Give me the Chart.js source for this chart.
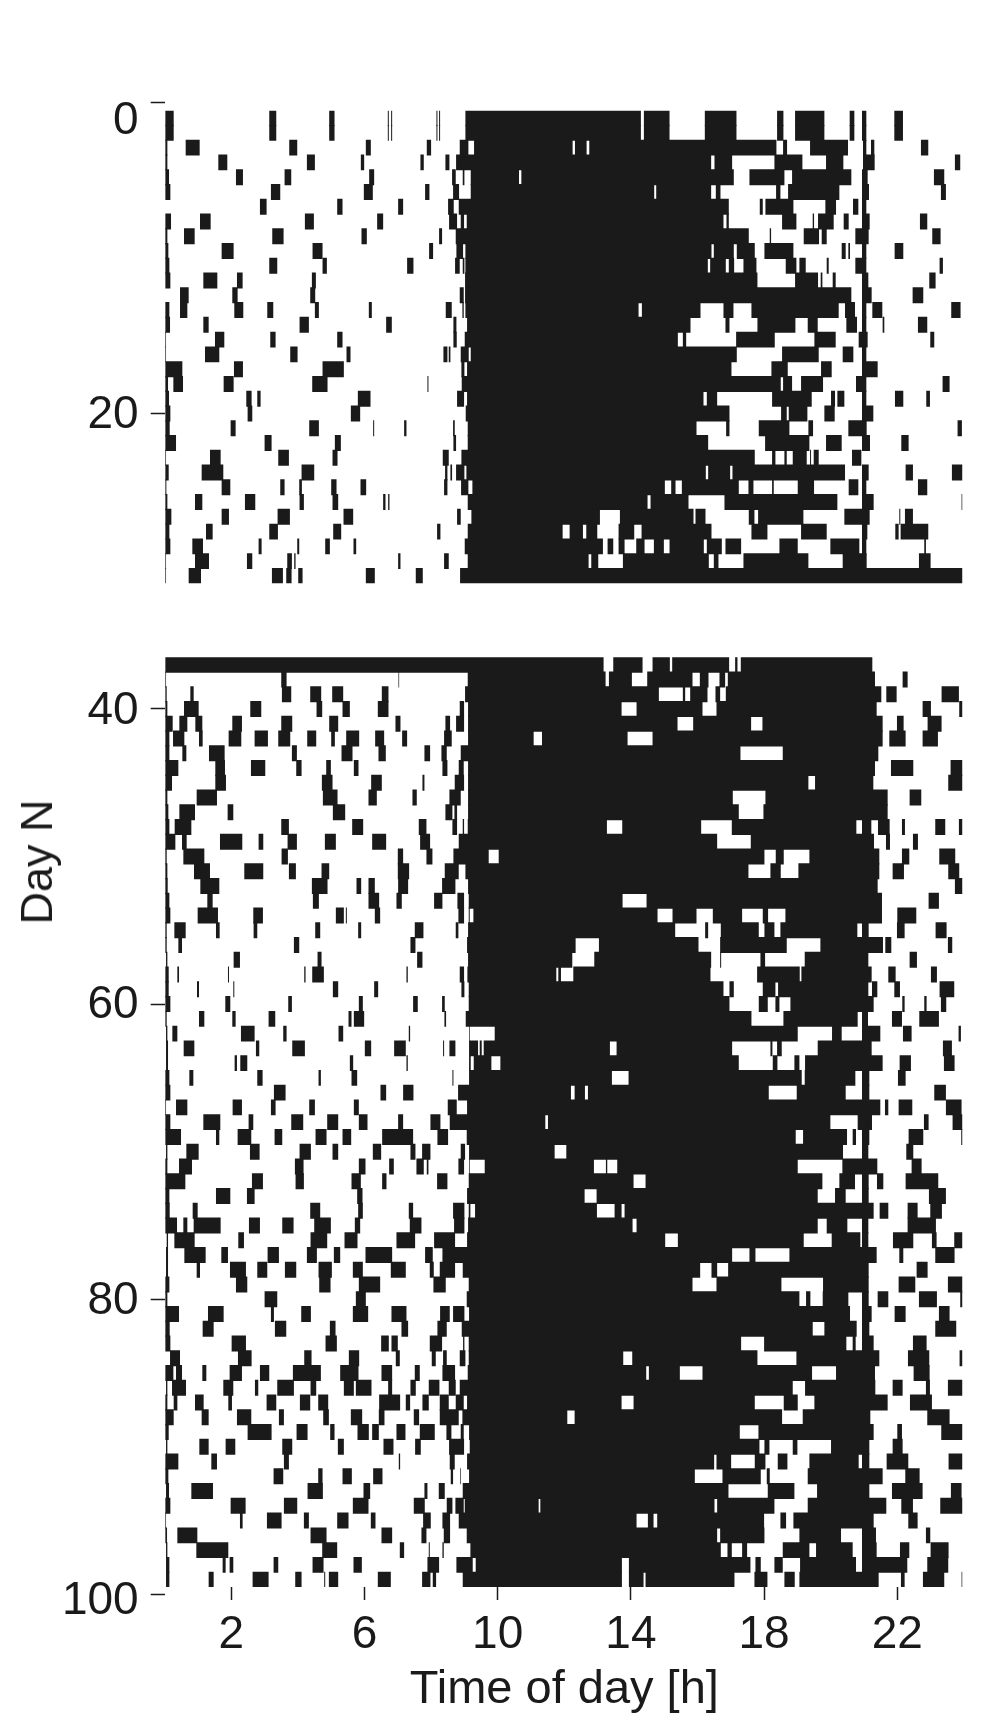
<!DOCTYPE html>
<html>
<head>
<meta charset="utf-8">
<title>Actogram</title>
<script src="https://cdn.jsdelivr.net/npm/chart.js@4/dist/chart.umd.min.js"></script>
<style>
  body { margin: 0; background: #fff; }
  canvas { position: absolute; left: 0; }
  #top { top: 0; }
  #bottom { top: 600px; }
  #dayTitle {
    position: absolute; left: 37px; top: 862px; white-space: nowrap; color: #1a1a1a;
    font: 45px "Liberation Sans", Arial, sans-serif;
    transform: translate(-50%, -50%) rotate(-90deg);
  }
</style>
</head>
<body>
<canvas id="top" width="990" height="640"></canvas>
<canvas id="bottom" width="990" height="1134"></canvas>
<div id="dayTitle">Day N</div>
<script>
// Activity bouts per row: start,end,start,end,... in hours
const topRows = [
  [.02,.27,3.14,3.35,4.94,5.10,6.70,6.73,6.80,6.83,8.16,8.19,8.24,8.27,9.03,14.30,14.39,15.16,16.22,17.17,18.39,18.58,18.93,19.81,20.57,20.71,20.94,21.07,21.91,22.17],
  [.02,.27,3.14,3.35,4.94,5.10,6.70,6.73,6.80,6.83,8.16,8.19,8.24,8.27,9.03,14.30,14.39,15.16,16.22,17.17,18.39,18.58,18.93,19.81,20.57,20.71,20.94,21.07,21.91,22.17],
  [.02,.08,.63,1.05,3.74,3.98,6.04,6.19,7.87,8.0,8.86,9.12,9.29,12.25,12.32,12.67,12.75,18.37,18.57,18.69,19.38,20.52,20.97,21.07,21.21,21.31,22.71,22.93],
  [.02,.08,1.61,1.88,4.27,4.51,5.89,5.99,7.68,7.78,8.43,8.55,8.75,16.41,16.51,17.04,18.31,19.15,19.86,20.38,20.97,21.32,23.73,23.89],
  [.02,.13,2.14,2.35,3.6,3.8,6.14,6.29,8.63,8.74,8.95,9.0,9.19,10.64,10.71,17.09,17.56,18.61,18.84,20.62,20.94,21.11,23.10,23.41],
  [.02,.17,3.19,3.47,5.98,6.25,7.82,7.95,8.66,8.84,9.19,14.70,14.76,16.41,16.55,16.69,18.36,18.49,18.72,20.26,20.94,21.15,23.31,23.46],
  [2.86,3.06,5.18,5.34,7.01,7.16,8.51,8.68,8.83,16.94,17.87,17.96,18.04,18.88,19.84,20.16,20.67,20.83,20.94,21.07],
  [.02,.19,1.06,1.38,4.21,4.48,6.38,6.56,8.54,8.78,8.89,8.99,9.07,16.78,16.87,16.94,18.54,18.97,19.46,19.50,19.62,20.09,20.39,20.54,20.94,21.17,22.68,22.90],
  [.02,.08,.58,.90,3.23,3.57,5.91,6.07,8.24,8.33,8.74,17.54,18.17,18.21,19.19,19.65,19.73,19.88,20.74,21.14,23.05,23.30],
  [.02,.11,1.71,2.07,4.44,4.74,7.94,8.06,8.76,8.96,9.03,16.42,16.49,17.09,17.18,17.72,18.01,18.88,20.33,20.45,20.53,20.58,20.94,21.07,21.92,22.18],
  [.02,.14,3.14,3.38,4.74,4.87,7.28,7.47,8.72,8.86,8.95,9.0,9.03,16.31,16.38,16.85,16.94,17.10,17.38,17.77,18.65,18.97,19.06,19.25,19.88,19.94,20.74,21.07,23.27,23.37],
  [.02,.17,1.16,1.58,2.17,2.34,4.42,4.54,9.02,17.80,18.93,19.62,19.70,19.75,20.06,20.15,20.94,21.13,22.96,23.15],
  [.46,.72,2.03,2.19,4.37,4.52,8.86,8.98,9.02,20.62,20.94,21.23,22.46,22.78],
  [.02,.14,.46,.68,2.09,2.36,3.08,3.26,4.51,4.63,6.13,6.22,8.44,8.62,8.94,8.98,9.03,14.23,14.33,16.09,16.78,17.08,17.62,20.24,20.43,20.73,20.94,21.07,21.25,21.55,23.62,23.90],
  [.02,.16,1.16,1.32,4.05,4.33,6.65,6.82,8.67,8.76,9.08,15.79,16.84,16.96,17.80,18.94,19.31,19.61,20.47,20.79,20.94,21.07,21.56,21.61,22.62,22.90],
  [.02,.04,1.51,1.79,3.17,3.33,5.18,5.34,8.67,8.77,9.01,15.41,15.56,15.66,17.16,18.32,19.51,20.15,20.84,21.11,22.99,23.11],
  [.02,.04,1.21,1.64,3.77,3.99,5.46,5.58,8.37,8.49,8.53,8.58,8.89,9.13,9.19,17.18,18.54,19.64,20.36,20.68,20.94,21.07],
  [.02,.53,2.08,2.35,4.74,5.38,8.91,9.0,9.08,17.02,18.22,18.71,19.71,20.03,20.94,21.41],
  [.02,.10,.26,.55,1.77,2.07,4.43,4.89,7.89,7.92,8.92,18.50,18.57,18.84,19.11,19.77,20.76,21.07,23.36,23.57],
  [.02,.13,2.45,2.61,2.78,2.88,5.80,6.18,8.78,8.99,9.08,16.18,16.28,16.59,18.24,19.43,20.01,20.13,20.20,20.41,20.94,21.07,21.93,22.18,22.87,22.98],
  [.02,.17,2.49,2.63,5.59,5.87,9.04,16.96,18.51,18.68,18.74,19.30,19.81,20.12,20.94,21.28],
  [.02,.15,1.98,2.13,4.34,4.63,6.26,6.29,7.19,7.26,8.66,8.71,9.10,15.97,16.86,16.96,17.84,18.76,19.33,19.47,20.53,21.08,23.81,23.94],
  [.02,.34,3.0,3.21,5.11,5.29,8.67,8.75,9.10,16.32,18.03,19.36,19.86,20.33,20.94,21.18,22.12,22.34],
  [.02,.04,1.36,1.68,3.41,3.73,5.04,5.19,8.35,8.53,8.91,17.72,18.24,18.34,18.61,18.68,18.86,19.28,19.38,19.41,19.49,19.64,20.64,20.92],
  [.02,.12,1.11,1.76,4.11,4.49,8.42,8.49,8.58,8.63,8.75,9.0,9.06,16.25,16.32,16.98,17.05,20.43,20.94,21.14,22.25,22.47,23.64,23.95],
  [.02,.05,1.71,1.97,3.47,3.60,4.04,4.12,5.0,5.16,5.88,6.05,8.39,8.49,8.90,9.12,9.24,15.02,15.21,15.34,15.53,17.24,17.53,17.68,18.24,18.29,19.01,19.50,20.54,20.83,20.94,21.07,22.62,22.90],
  [.02,.08,.91,1.13,2.41,2.72,4.05,4.18,5.04,5.21,6.56,6.63,6.71,6.75,9.10,14.50,14.59,15.73,16.81,20.20,20.94,21.29,23.93,23.95],
  [.02,.20,1.71,1.93,3.39,3.76,5.37,5.66,8.78,8.89,9.21,13.07,13.67,15.88,15.94,16.24,17.54,17.71,17.82,19.18,20.41,21.17,22.06,22.09,22.23,22.47],
  [.02,.14,1.24,1.44,3.14,3.40,5.06,5.30,8.18,8.28,9.10,11.95,12.16,12.56,12.66,12.99,13.63,14.10,14.32,16.42,17.62,18.10,19.11,19.88,20.94,21.10,21.94,22.04,22.10,22.93],
  [.02,.17,.83,1.15,2.82,2.91,3.98,4.04,4.82,4.96,5.67,5.75,9.01,13.16,13.30,13.47,13.63,13.81,14.16,14.41,14.69,14.99,15.16,16.19,16.28,16.73,16.84,17.31,18.46,19.01,19.99,20.86,20.94,21.07,22.81,22.86],
  [.02,.04,.91,1.33,2.47,2.63,3.68,3.82,3.89,3.93,7.01,7.08,8.39,8.53,9.10,12.73,12.81,13.02,13.76,16.34,16.49,16.63,17.38,19.33,20.36,21.08,22.65,23.0],
  [.02,.04,.72,1.09,3.22,3.55,3.65,3.81,4.01,4.14,6.04,6.31,7.54,7.75,8.87,23.95]
];
const bottomRows = [
  [.02,13.18,13.47,14.35,14.65,15.17,15.24,16.95,17.13,17.20,17.30,21.25],
  [.02,.04,3.50,3.66,7.02,7.04,9.10,13.24,13.34,14.03,14.49,15.85,16.07,16.33,16.66,16.83,16.91,21.33,22.16,22.31],
  [.02,.06,.77,.87,3.52,3.80,4.37,4.70,5.03,5.36,6.52,6.72,9.02,14.84,15.56,15.63,15.78,16.30,16.54,16.68,16.85,21.52,21.67,21.98,23.33,23.85],
  [.02,.08,.58,1.02,2.57,2.90,4.56,4.73,5.34,5.56,6.40,6.72,8.86,8.99,9.11,13.72,14.17,16.15,16.57,21.38,22.76,23.01,23.86,23.95],
  [.02,.24,.44,.68,.92,1.13,2.03,2.32,3.50,3.83,4.94,5.21,6.93,7.08,8.43,8.57,8.75,8.99,9.11,15.40,15.87,17.61,17.95,21.56,21.99,22.19,22.91,23.33],
  [.02,.14,.25,.59,1.03,1.14,1.92,2.30,2.70,3.10,3.41,3.77,4.28,4.55,5.0,5.11,5.45,5.84,6.32,6.59,7.13,7.28,8.39,8.62,9.11,11.08,11.33,13.90,14.65,21.56,21.76,22.25,22.76,23.22],
  [.02,.14,.53,.65,1.33,1.80,3.82,3.97,5.31,5.64,6.42,6.64,7.80,7.97,8.31,8.47,8.89,17.29,18.56,21.43],
  [.02,.41,1.52,1.81,2.59,3.02,3.95,4.11,4.85,4.99,5.68,5.82,8.34,8.49,8.83,8.98,9.11,21.33,21.81,22.48,23.60,23.95],
  [.02,.22,1.52,1.84,4.72,5.04,6.20,6.52,7.74,7.80,8.71,8.99,9.11,19.33,19.53,21.28,23.53,23.95],
  [.02,.08,.96,1.57,4.75,5.19,6.12,6.37,7.44,7.57,8.55,8.89,9.11,17.06,18.04,21.71,22.37,22.72],
  [.02,.11,.44,.91,1.89,2.06,5.05,5.42,8.43,8.64,8.70,8.78,9.11,17.24,17.98,21.71],
  [.02,.14,.30,.80,3.50,3.73,5.63,5.96,7.63,7.86,8.64,8.78,8.95,8.99,9.10,13.28,13.74,16.11,17.03,20.77,20.94,21.22,21.42,21.77,22.14,22.23,23.14,23.44,23.85,23.95],
  [.02,.32,.52,.66,1.66,2.33,2.82,2.96,3.69,3.97,4.81,5.14,6.23,6.65,7.67,7.97,8.83,16.59,17.60,21.30,21.66,21.78,22.47,22.62],
  [.02,.06,.56,1.19,3.51,3.70,7.0,7.16,7.86,8.04,8.67,9.73,10.03,18.01,18.35,18.59,19.36,21.46,22.14,22.36,23.26,23.74],
  [.02,.08,.88,1.36,2.39,2.96,3.73,3.94,4.71,4.94,7.0,7.34,8.41,8.83,9.03,17.53,18.19,18.50,19.03,21.46,21.86,22.20,23.53,23.86],
  [.02,.09,1.07,1.64,4.42,4.89,5.76,5.90,6.12,6.31,7.01,7.31,8.33,8.73,9.11,21.41,23.73,23.95],
  [.02,.14,1.28,1.44,4.45,4.63,6.12,6.44,6.96,7.12,8.09,8.34,8.79,8.99,9.13,13.75,14.47,21.54,22.94,23.25],
  [.02,.17,.99,1.60,2.66,2.95,5.14,5.38,5.44,5.47,6.31,6.47,8.82,8.99,9.13,9.16,9.27,14.80,15.25,15.97,16.46,17.34,17.96,18.12,18.64,21.54,22.0,22.57],
  [.02,.06,.29,.63,1.54,1.65,2.67,2.78,4.52,4.67,5.81,5.90,7.51,7.77,8.74,8.82,9.11,15.33,16.23,16.32,16.70,17.84,18.01,18.31,18.49,20.80,20.94,21.14,21.99,22.22,23.15,23.48],
  [.02,.06,.41,.52,3.88,4.04,7.38,7.53,9.08,12.34,13.04,16.03,16.68,18.68,19.69,21.57,21.64,21.82,23.52,23.65],
  [.04,.08,2.07,2.26,4.59,4.71,7.58,7.74,9.11,12.24,12.90,16.41,16.68,16.71,17.89,18.03,19.22,21.13,22.37,22.59],
  [.02,.12,.38,.43,1.90,1.93,4.19,4.23,4.43,4.78,7.26,7.30,8.86,8.99,9.09,11.76,11.82,11.90,12.27,16.39,17.79,19.07,19.12,21.23,21.73,21.95,23.01,23.19],
  [.02,.12,.97,1.03,2.06,2.09,5.05,5.21,6.29,6.41,8.91,9.0,9.13,16.78,16.96,17.09,17.96,18.34,18.42,21.13,21.24,21.40,21.91,22.08,23.27,23.71],
  [.02,.17,1.82,1.97,3.71,3.82,5.83,5.95,7.46,7.60,8.33,8.41,9.13,16.96,17.84,18.11,18.34,18.46,18.79,21.29,22.15,22.22,22.81,22.88,23.31,23.47],
  [.02,.06,1.03,1.19,2.03,2.13,3.12,3.32,5.52,5.61,5.68,5.99,8.40,8.45,9.04,17.62,18.58,20.81,20.94,21.12,21.84,22.14,22.66,23.25],
  [.04,.08,.23,.38,2.29,2.70,3.56,3.66,5.22,5.36,7.33,7.37,9.14,9.16,9.91,19.01,20.04,20.33,20.94,21.49,22.17,22.43,23.84,23.91],
  [.04,.10,.57,.89,2.74,2.84,3.83,4.21,6.01,6.20,6.89,7.24,8.36,8.39,8.55,8.73,9.14,9.41,9.46,9.52,9.58,13.37,13.57,17.04,18.19,18.25,18.39,18.53,19.61,21.23,23.37,23.64],
  [.04,.10,2.10,2.17,2.27,2.48,5.56,5.66,7.26,7.30,9.14,9.19,9.28,9.81,10.08,17.24,18.26,18.40,18.91,19.06,19.23,21.56,22.07,22.41,23.40,23.72],
  [.02,.14,.74,.86,2.78,2.94,4.62,4.69,5.61,5.78,8.64,8.67,9.14,13.43,13.93,19.13,19.22,20.74,20.94,21.16,22.02,22.25],
  [.02,.17,3.28,3.63,6.48,6.65,7.16,7.47,8.81,12.20,12.31,12.62,12.71,18.14,18.98,20.45,20.94,21.16,23.11,23.46],
  [.02,.04,.34,.68,2.04,2.32,3.19,3.33,4.34,4.51,5.68,5.83,8.50,8.77,9.08,21.49,21.63,21.73,22.04,22.45,23.46,23.93],
  [.02,.17,1.16,1.67,2.52,2.66,3.80,4.16,4.88,5.21,5.83,6.09,7.01,7.16,7.98,8.28,8.56,11.43,11.51,19.99,20.81,21.24,22.80,22.94,23.66,23.95],
  [.02,.49,1.54,1.64,2.19,2.60,3.30,3.53,4.53,4.86,5.34,5.60,6.53,7.46,8.19,8.51,9.07,18.95,19.17,20.49,20.66,20.76,20.94,21.16,22.34,22.78,23.92,23.95],
  [.04,.08,.65,1.02,2.56,2.85,4.05,4.39,5.04,5.21,6.25,6.50,7.38,7.53,7.73,7.98,8.89,9.02,9.14,11.71,12.06,20.37,20.94,21.13,22.27,22.48],
  [.02,.08,.43,.82,3.91,4.17,5.83,6.03,6.74,6.88,7.56,7.78,7.87,7.92,8.82,8.99,9.14,9.16,9.61,12.89,13.25,13.29,13.59,19.01,20.35,21.40,22.43,22.73],
  [.02,.62,2.62,2.95,3.93,4.18,5.61,5.89,6.53,6.66,8.18,8.49,9.13,14.08,14.44,19.75,20.26,20.73,20.94,21.14,21.39,21.58,22.25,23.23],
  [.02,.14,1.54,1.97,2.47,2.70,5.78,5.94,9.08,12.61,12.97,19.61,20.13,20.45,20.94,21.14,22.95,23.46],
  [.02,.15,.84,.99,4.37,4.67,5.81,5.95,7.33,7.46,8.66,9.0,9.13,9.18,9.32,12.98,13.51,13.72,13.81,21.29,21.47,21.73,22.31,22.61,22.99,23.34],
  [.02,.37,.56,.68,.87,1.68,2.53,2.86,3.53,3.87,4.49,4.99,5.71,5.87,7.36,7.71,8.69,9.0,9.11,14.05,14.17,19.61,19.88,20.50,20.94,21.13,22.31,23.16],
  [.06,.10,.29,.90,2.21,2.38,4.38,4.88,5.40,5.79,6.96,7.52,8.09,8.72,9.08,15.03,15.41,19.19,20.03,20.89,20.94,21.13,21.87,22.48,23.04,23.18,23.71,23.95],
  [.04,.10,.59,1.23,1.70,1.90,3.09,3.43,4.27,4.57,5.08,5.27,6.03,6.83,7.82,8.05,8.34,17.04,17.56,17.74,18.76,21.38,22.06,22.18,23.14,23.72],
  [.04,.10,.96,1.06,1.96,2.44,2.78,3.08,3.61,3.95,4.62,5.02,5.65,5.95,6.79,7.24,7.96,8.08,8.26,8.72,8.95,16.08,16.42,16.59,16.92,21.14,22.58,22.91],
  [.02,.14,2.14,2.48,4.64,4.98,5.83,6.47,8.07,8.44,9.13,15.85,16.57,18.52,19.77,21.14,22.04,22.54,23.52,23.95],
  [.02,.08,3.0,3.38,5.74,6.04,9.07,19.06,19.26,19.39,19.76,20.53,20.94,21.14,21.41,21.73,22.65,23.19,23.89,23.95],
  [.02,.43,1.30,1.77,3.19,3.28,4.10,4.39,5.65,6.11,6.81,7.26,8.27,8.56,8.66,9.0,9.14,20.58,20.94,21.23,21.92,22.25,23.25,23.57],
  [.02,.15,1.14,1.47,3.31,3.65,4.96,5.13,7.11,7.31,8.19,8.47,8.92,19.46,19.81,20.78,20.94,21.16,23.14,23.77],
  [.02,.17,2.01,2.44,4.83,5.17,6.50,6.73,6.81,7.0,7.96,8.33,8.96,9.0,9.13,17.31,18.0,20.47,20.66,20.75,20.94,21.29,22.47,22.88],
  [.16,.46,2.20,2.61,4.19,4.41,5.53,5.84,6.94,7.06,8.02,8.14,8.36,8.47,8.86,9.03,9.13,13.77,14.04,17.80,18.97,21.46,22.32,22.96,23.87,23.95],
  [.02,.26,.34,.52,1.13,1.25,1.95,2.32,2.86,3.14,3.85,4.69,5.27,5.82,6.51,6.83,7.51,7.66,8.34,8.72,9.10,14.46,14.54,15.47,16.15,19.44,20.16,21.33,22.49,22.97],
  [.04,.08,.22,.64,1.76,2.06,2.71,2.81,3.38,3.88,4.38,4.55,5.38,5.68,5.74,6.21,6.71,6.83,7.38,7.54,7.93,8.25,8.53,8.74,8.86,18.86,19.23,21.34,21.86,22.16,22.86,22.98,23.52,23.95],
  [.02,.08,.27,.38,.91,1.17,1.91,2.02,3.06,3.35,4.06,4.37,4.61,4.91,6.44,7.07,7.24,7.37,7.74,7.93,8.26,8.53,8.74,8.98,9.08,13.72,14.08,17.72,18.59,19.01,19.51,21.71,22.38,23.04],
  [.02,.27,1.11,1.32,2.17,2.60,3.43,3.58,4.76,4.93,5.59,5.93,6.43,6.60,7.48,7.64,8.26,8.83,8.94,12.09,12.31,18.54,19.16,21.19,22.90,23.57],
  [.02,.12,2.49,3.21,3.96,4.29,4.97,5.10,5.79,6.13,6.23,6.43,6.96,7.23,7.66,8.11,8.46,8.61,8.89,8.98,9.14,17.27,17.83,21.29,22.0,22.14,23.32,23.95],
  [.04,.08,1.04,1.32,1.83,2.12,3.53,3.83,5.20,5.38,6.57,6.87,7.52,7.69,8.54,8.99,9.16,17.86,18.01,18.16,18.86,19.0,20.01,21.16,21.86,22.16],
  [.02,.41,1.40,1.57,3.58,3.73,7.03,7.07,8.56,8.71,9.08,16.50,16.57,17.01,17.72,18.04,18.41,18.70,19.36,20.84,20.94,21.16,21.68,22.33,23.54,23.95],
  [.02,.11,3.27,3.56,4.61,4.74,5.34,5.62,6.26,6.54,8.59,8.66,8.87,8.89,9.14,15.92,16.75,17.90,18.08,18.17,19.31,21.56,22.24,22.67],
  [.04,.13,.80,1.45,4.29,4.75,5.97,6.17,7.80,7.89,8.23,8.41,8.95,16.93,18.11,18.91,19.59,21.16,21.84,22.76,23.61,23.93],
  [.02,.17,1.98,2.43,3.58,3.98,5.65,6.12,7.48,7.81,8.47,8.64,8.73,8.98,9.01,11.23,11.28,16.51,16.59,18.31,19.31,21.67,22.12,22.47,23.29,23.95],
  [.02,.04,2.26,2.34,3.07,3.51,4.18,4.33,5.18,5.52,6.19,6.33,7.76,7.99,8.34,8.57,8.83,14.17,14.51,14.68,14.79,18.0,18.49,18.66,18.88,21.29,22.33,22.61],
  [.02,.07,.38,.98,4.38,4.86,6.51,6.83,7.71,7.86,8.38,8.57,9.07,16.59,16.68,18.01,19.06,20.31,20.94,21.36,22.86,22.99],
  [.04,.08,.95,1.91,4.73,5.18,7.06,7.19,7.93,7.96,8.34,8.38,9.18,16.70,16.90,17.03,17.34,17.49,18.56,19.36,19.56,20.66,20.94,21.38,22.08,22.36,23.0,23.54],
  [.04,.14,1.74,1.83,1.95,2.06,3.27,3.41,4.44,4.77,5.67,5.92,7.89,8.24,8.76,9.25,9.34,13.73,13.94,17.59,17.74,17.90,18.31,18.56,19.08,20.76,20.94,22.30,22.90,23.53],
  [.04,.14,1.32,1.47,2.64,3.12,3.92,4.11,4.79,4.82,4.93,5.21,6.40,6.79,7.73,7.98,8.05,8.15,8.95,13.73,13.94,14.38,14.44,17.11,17.71,18.10,18.61,18.92,19.06,21.44,22.11,22.22,22.77,23.41,23.93,23.95]
];

const firstBottomDay = 37;
const topTickValues = [-1.07, 20];     // top panel is drawn in row numbers
const topTickLabels = ['0', '20'];
const bottomTickValues = [40, 60, 80, 100];
const bottomTickLabels = ['40', '60', '80', '100'];
const hourTicks = [2, 6, 10, 14, 18, 22];

const INK = '#1a1a1a';
const FONT = '"Liberation Sans", Arial, sans-serif';

// turn the start,end lists into floating bars
function toBars(rows, firstRow) {
  const bars = [];
  rows.forEach((bouts, r) => {
    for (let i = 0; i < bouts.length; i += 2) {
      bars.push({ x: [bouts[i], bouts[i + 1]], y: firstRow + r });
    }
  });
  return bars;
}

// labels in the figure sit a little below their tick; a two line label with
// a blank first line moves the text down by half its line height
function dayAxis(tickValues, tickLabels, labelDrop, min, max) {
  return {
    type: 'linear',
    reverse: true,
    offset: false,
    min: min,
    max: max,
    afterBuildTicks: axis => { axis.ticks = tickValues.map(v => ({ value: v })); },
    afterFit: axis => { axis.width = 164.7; },
    border: { display: false },
    grid: { offset: false, drawOnChartArea: false, tickLength: 14, tickWidth: 1.5, tickColor: INK },
    ticks: {
      autoSkip: false,
      padding: 12,
      color: INK,
      font: ctx => ({ family: FONT, size: 46, lineHeight: (2 * (labelDrop[ctx.index] || 1)) + 'px' }),
      callback: (value, i) => (labelDrop[i] ? ['', tickLabels[i]] : tickLabels[i])
    }
  };
}

const hourAxis = {
  type: 'linear',
  min: 0,
  max: 24,
  border: { display: false },
  grid: { drawOnChartArea: false, tickLength: 13, tickWidth: 1.5, tickColor: INK },
  afterBuildTicks: axis => { axis.ticks = hourTicks.map(v => ({ value: v })); },
  ticks: {
    autoSkip: false,
    maxRotation: 0,
    padding: 8,
    color: INK,
    font: { family: FONT, size: 46 }
  }
};

function panel(id, rows, firstRow, yAxis, xAxis, padding) {
  new Chart(document.getElementById(id), {
    type: 'bar',
    data: {
      datasets: [{
        data: toBars(rows, firstRow),
        backgroundColor: INK,
        borderWidth: 0,
        barPercentage: 1.08,   // rows overlap by a pixel, no hairlines between them
        categoryPercentage: 1
      }]
    },
    options: {
      indexAxis: 'y',
      responsive: false,
      animation: false,
      layout: { padding: padding },
      plugins: { legend: { display: false }, tooltip: { enabled: false } },
      scales: { x: xAxis, y: yAxis }
    }
  });
}

panel('top', topRows, 0,
  dayAxis(topTickValues, topTickLabels, [19, 2], -0.5, 31.5),
  Object.assign({}, hourAxis, { display: false }),
  { top: 110.7, bottom: 56.7, right: 26.1 });

panel('bottom', bottomRows, firstBottomDay,
  dayAxis(bottomTickValues, bottomTickLabels, [2, 1, 2, 7], firstBottomDay - 0.5, firstBottomDay + bottomRows.length - 0.5),
  Object.assign({}, hourAxis, {
    afterFit: axis => { axis.height = 147; },
    title: { display: true, text: 'Time of day [h]', color: INK, font: { family: FONT, size: 47 }, padding: { top: 0, bottom: 16 } }
  }),
  { top: 57.3, right: 26.1 });
</script>
</body>
</html>
